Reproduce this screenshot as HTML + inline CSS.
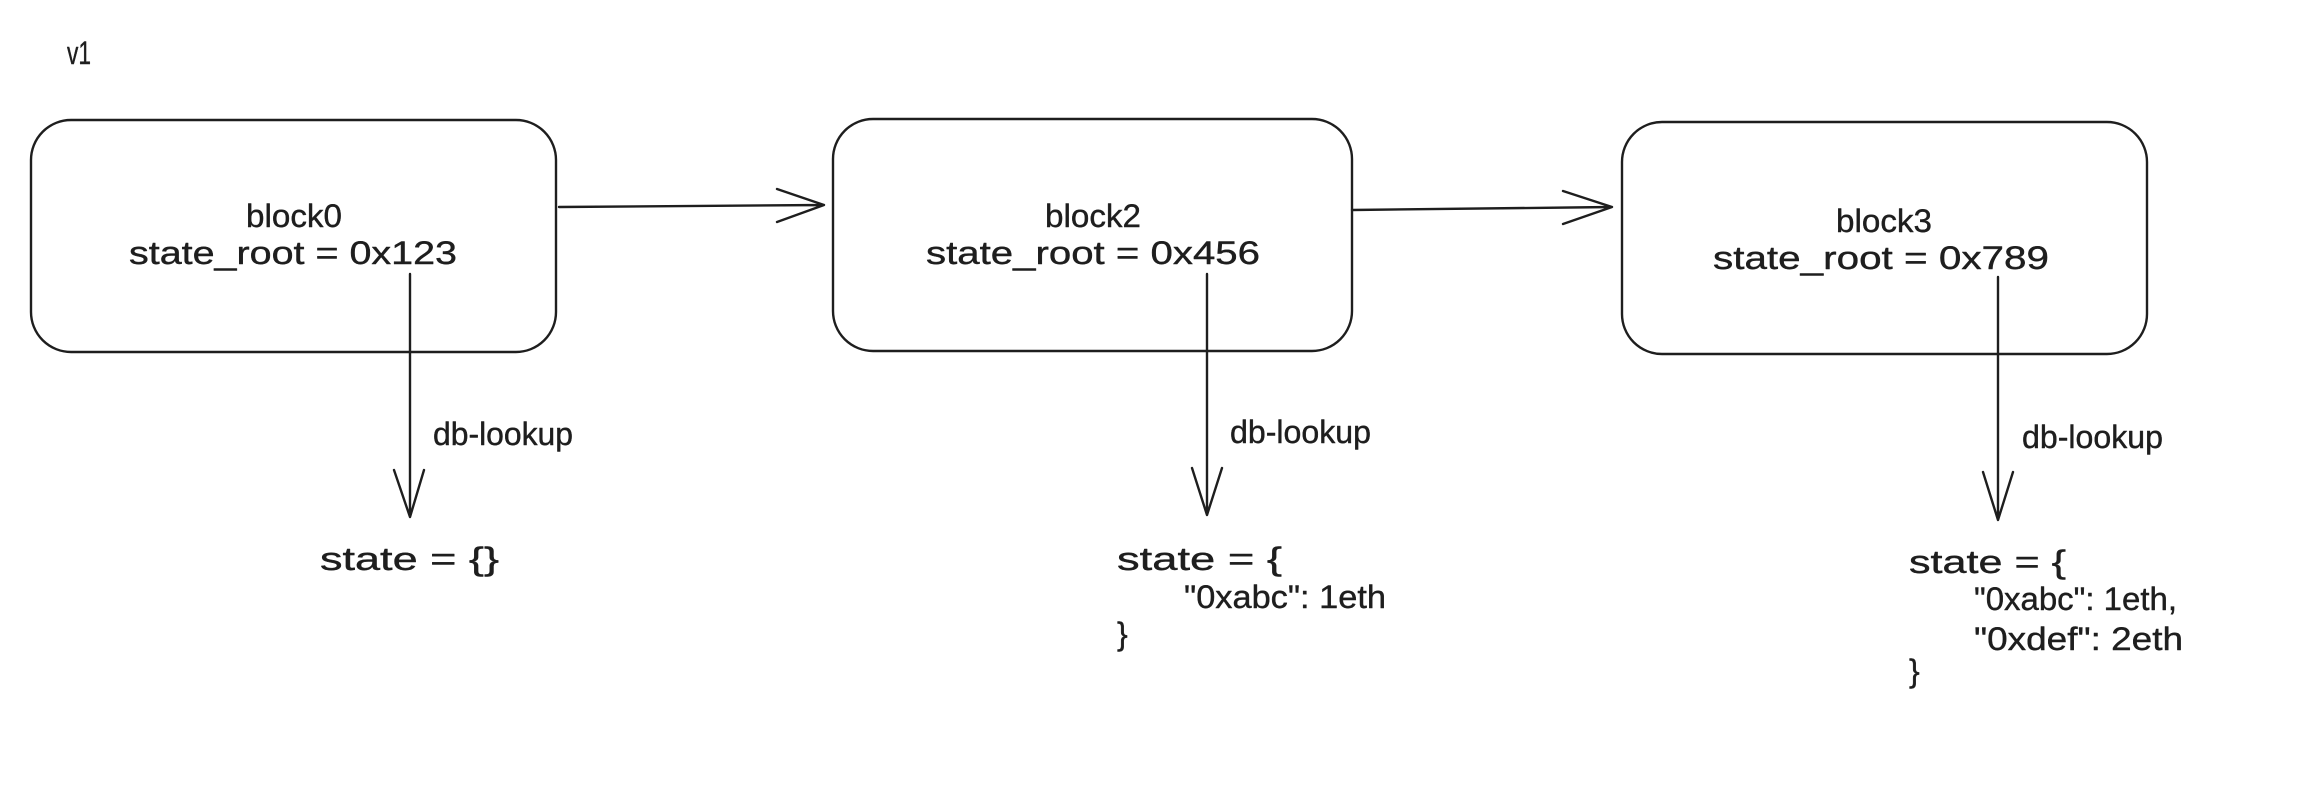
<!DOCTYPE html>
<html><head><meta charset="utf-8"><style>html,body{margin:0;padding:0;background:#fff}svg{display:block}</style></head>
<body>
<svg width="2320" height="786" viewBox="0 0 2320 786" xmlns="http://www.w3.org/2000/svg" font-family="Liberation Sans, sans-serif" fill="none" stroke="#1e1e1e" stroke-width="2.4" stroke-linecap="round" stroke-linejoin="round">
<rect x="31" y="120" width="525" height="232" rx="40" ry="40"/>
<rect x="833" y="119" width="519" height="232" rx="40" ry="40"/>
<rect x="1622" y="122" width="525" height="232" rx="40" ry="40"/>
<path d="M559 207 L824 205 M777 189 L824 205 L777 222"/>
<path d="M1352 210 L1612 207 M1563 191 L1612 207 L1563 224"/>
<path d="M410 274 L410 517 M394 470 L410 517 L424 470"/>
<path d="M1207 274 L1207 515 M1192 468 L1207 515 L1222 468"/>
<path d="M1998 277 L1998 520 M1983 472 L1998 520 L2013 472"/>
<g fill="#1e1e1e" stroke="#1e1e1e" stroke-width="0.4" font-size="32">
<text x="67" y="64" textLength="24" lengthAdjust="spacingAndGlyphs">v1</text>
<text x="294" y="227" text-anchor="middle" textLength="96" lengthAdjust="spacingAndGlyphs">block0</text>
<text x="129" y="264" textLength="328" lengthAdjust="spacingAndGlyphs">state_root = 0x123</text>
<text x="1093" y="227" text-anchor="middle" textLength="96" lengthAdjust="spacingAndGlyphs">block2</text>
<text x="926" y="264" textLength="334" lengthAdjust="spacingAndGlyphs">state_root = 0x456</text>
<text x="1884" y="232" text-anchor="middle" textLength="96" lengthAdjust="spacingAndGlyphs">block3</text>
<text x="1713" y="269" textLength="336" lengthAdjust="spacingAndGlyphs">state_root = 0x789</text>
<text x="433" y="445" textLength="140" lengthAdjust="spacingAndGlyphs">db-lookup</text>
<text x="1230" y="443" textLength="141" lengthAdjust="spacingAndGlyphs">db-lookup</text>
<text x="2022" y="448" textLength="141" lengthAdjust="spacingAndGlyphs">db-lookup</text>
<text x="320" y="570" textLength="179" lengthAdjust="spacingAndGlyphs">state = {}</text>
<text x="1117" y="570" textLength="165" lengthAdjust="spacingAndGlyphs">state = {</text>
<text x="1184" y="608" textLength="202" lengthAdjust="spacingAndGlyphs">"0xabc": 1eth</text>
<text x="1117" y="645">}</text>
<text x="1909" y="573" textLength="157" lengthAdjust="spacingAndGlyphs">state = {</text>
<text x="1974" y="610" textLength="203" lengthAdjust="spacingAndGlyphs">"0xabc": 1eth,</text>
<text x="1974" y="650" textLength="209" lengthAdjust="spacingAndGlyphs">"0xdef": 2eth</text>
<text x="1909" y="682">}</text>
</g>
</svg>
</body></html>
